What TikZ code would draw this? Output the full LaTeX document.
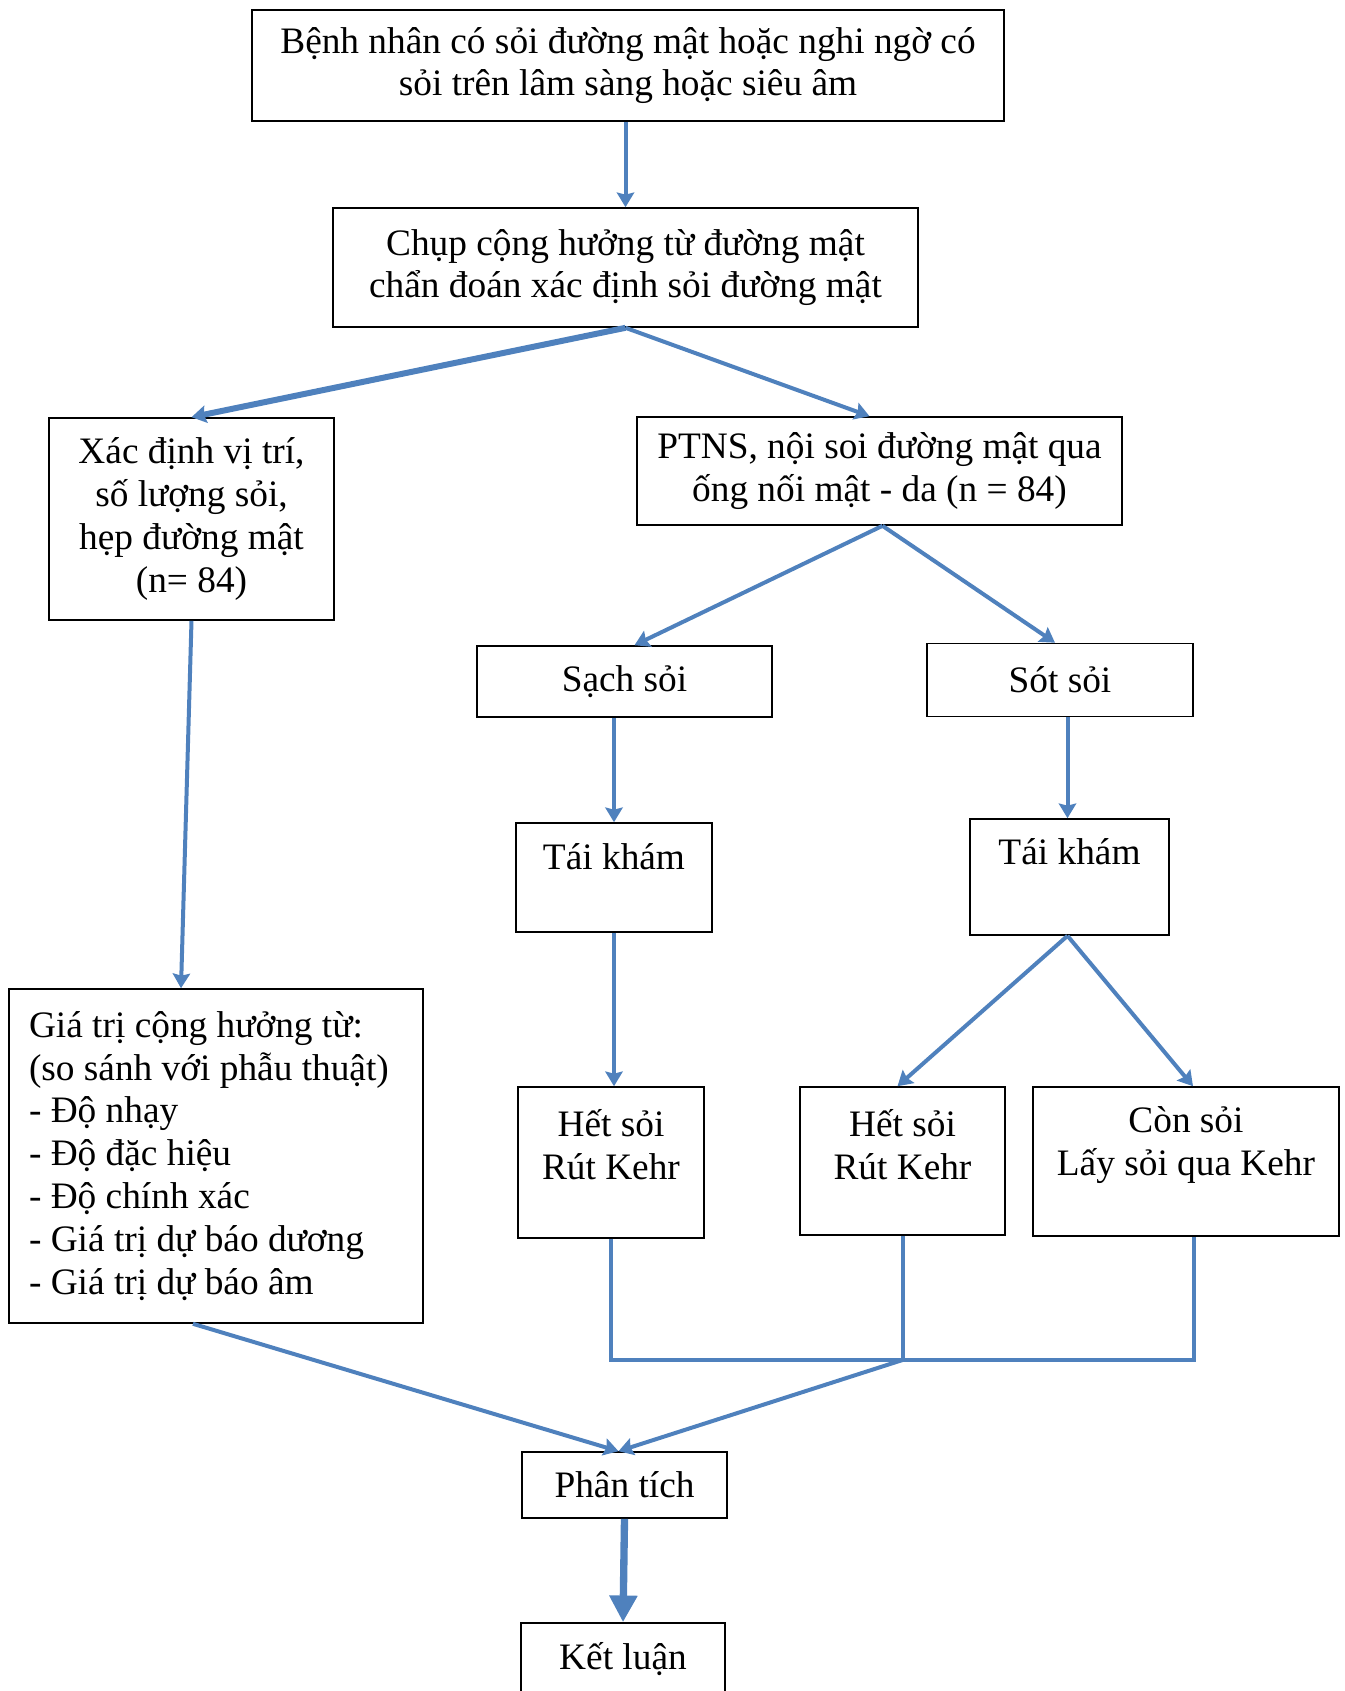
\documentclass[tikz,border=0pt]{standalone}
\usepackage{fontspec}
\setmainfont{Liberation Serif}
\usetikzlibrary{arrows.meta,positioning,calc}
\definecolor{flowblue}{RGB}{79,129,189}

\tikzset{
  box/.style={draw=black, line width=0.6pt, inner sep=0pt, align=center,
    font=\fontsize{14}{16.1}\selectfont},
  sz/.style 2 args={minimum width=#1*0.375pt, minimum height=#2*0.375pt},
  txt/.style={inner sep=0pt, align=center, font=\fontsize{14}{16.1}\selectfont},
  link/.style={flowblue, line width=1.5pt,
    -{Stealth[length=5.5pt,width=6.5pt,inset=0.8pt]}},
  boldlink/.style={link, line width=2.25pt},
  bigarrow/.style={flowblue, line width=2.75pt,
    -{Triangle[length=10pt,width=10pt]}},
  bus/.style={flowblue, line width=1.5pt, line join=miter}
}

\begin{document}
\begin{tikzpicture}[x=0.375pt, y=-0.375pt]
  \def\u{0.375pt}
  \useasboundingbox (0,0) rectangle (1345,1691);

  % boxes
  \node[box, sz={752}{111}] (top) at (628,65.5)
    {Bệnh nhân có sỏi đường mật hoặc nghi ngờ có\\sỏi trên lâm sàng hoặc siêu âm};
  \node[box, sz={585}{119}] (mri) at (625.5,267.5)
    {Chụp cộng hưởng từ đường mật\\chẩn đoán xác định sỏi đường mật};
  \node[box, sz={285}{202}] (loc) at (191.5,519)
    {Xác định vị trí,\\số lượng sỏi,\\hẹp đường mật\\(n= 84)};
  \node[box, sz={485}{108}] (ptns) at (879.5,471)
    {PTNS, nội soi đường mật qua\\ống nối mật - da (n = 84)};
  \node[box, sz={295}{71}] (sach) at (624.5,681.5) {Sạch sỏi};
  \node[box, sz={266}{73}] (sot) at (1060,680) {Sót sỏi};
  \node[box, sz={196}{109}] (tkL) at (614,877.5) {};
  \node[box, sz={199}{116}] (tkR) at (1069.5,877) {};
  \node[box, sz={414}{334}, text width=140.25pt, align=flush left] (gia) at (216,1156)
    {Giá trị cộng hưởng từ:\\(so sánh với phẫu thuật)\\- Độ nhạy\\- Độ đặc hiệu\\
     - Độ chính xác\\- Giá trị dự báo dương\\- Giá trị dự báo âm};
  \node[box, sz={186}{151}] (hetL) at (611,1162.5) {};
  \node[box, sz={205}{148}] (hetR) at (902.5,1161) {};
  \node[box, sz={306}{149}] (con) at (1186,1161.5) {};
  \node[box, sz={205}{66}] (phan) at (624.5,1485) {Phân tích};
  \node[box, sz={204}{72}] (ket) at (623,1659) {Kết luận};

  % texts sitting high in their boxes
  \node[txt] (tkLtxt) at (614,857) {Tái khám};
  \node[txt] (tkRtxt) at (1069.5,852) {Tái khám};
  \node[txt] (hetLtxt) at (611,1145) {Hết sỏi\\Rút Kehr};
  \node[txt] (hetRtxt) at (902.5,1145) {Hết sỏi\\Rút Kehr};
  \node[txt] (contxt) at (1186,1145) {Còn sỏi\\Lấy sỏi qua Kehr};

  % connectors
  \draw[link] (mri.north |- top.south) -- (mri.north);
  \draw[boldlink] (mri.south) -- (loc.north);
  \draw[link] (mri.south) -- ([xshift=-10*\u]ptns.north);
  \draw[link] (loc.south) -- ([xshift=-35*\u]gia.north);
  \draw[link] ([xshift=3*\u]ptns.south) -- ([xshift=10*\u]sach.north);
  \draw[link] ([xshift=3*\u]ptns.south) -- ([xshift=-5*\u]sot.north);
  \draw[link] (tkL.north |- sach.south) -- (tkL.north);
  \draw[link] ([xshift=-2*\u]tkR.north |- sot.south) -- ([xshift=-2*\u]tkR.north);
  \draw[link] (tkL.south) -- (tkL.south |- hetL.north);
  \draw[link] ([xshift=-2*\u]tkR.south) -- ([xshift=-5*\u]hetR.north);
  \draw[link] ([xshift=-2*\u]tkR.south) -- ([xshift=7*\u]con.north);

  \coordinate (join) at (hetR.south |- 0,1360);
  \coordinate (conB) at ([xshift=8*\u]con.south);
  \draw[bus] (hetL.south) |- (conB |- join) -- (conB);
  \draw[bus] (hetR.south) -- (join);

  \draw[link] (join) -- ([xshift=-6*\u]phan.north);
  \draw[link] ([xshift=-23*\u]gia.south) -- ([xshift=-6*\u]phan.north);
  \draw[bigarrow] (phan.south) -- (ket.north);
\end{tikzpicture}
\end{document}
